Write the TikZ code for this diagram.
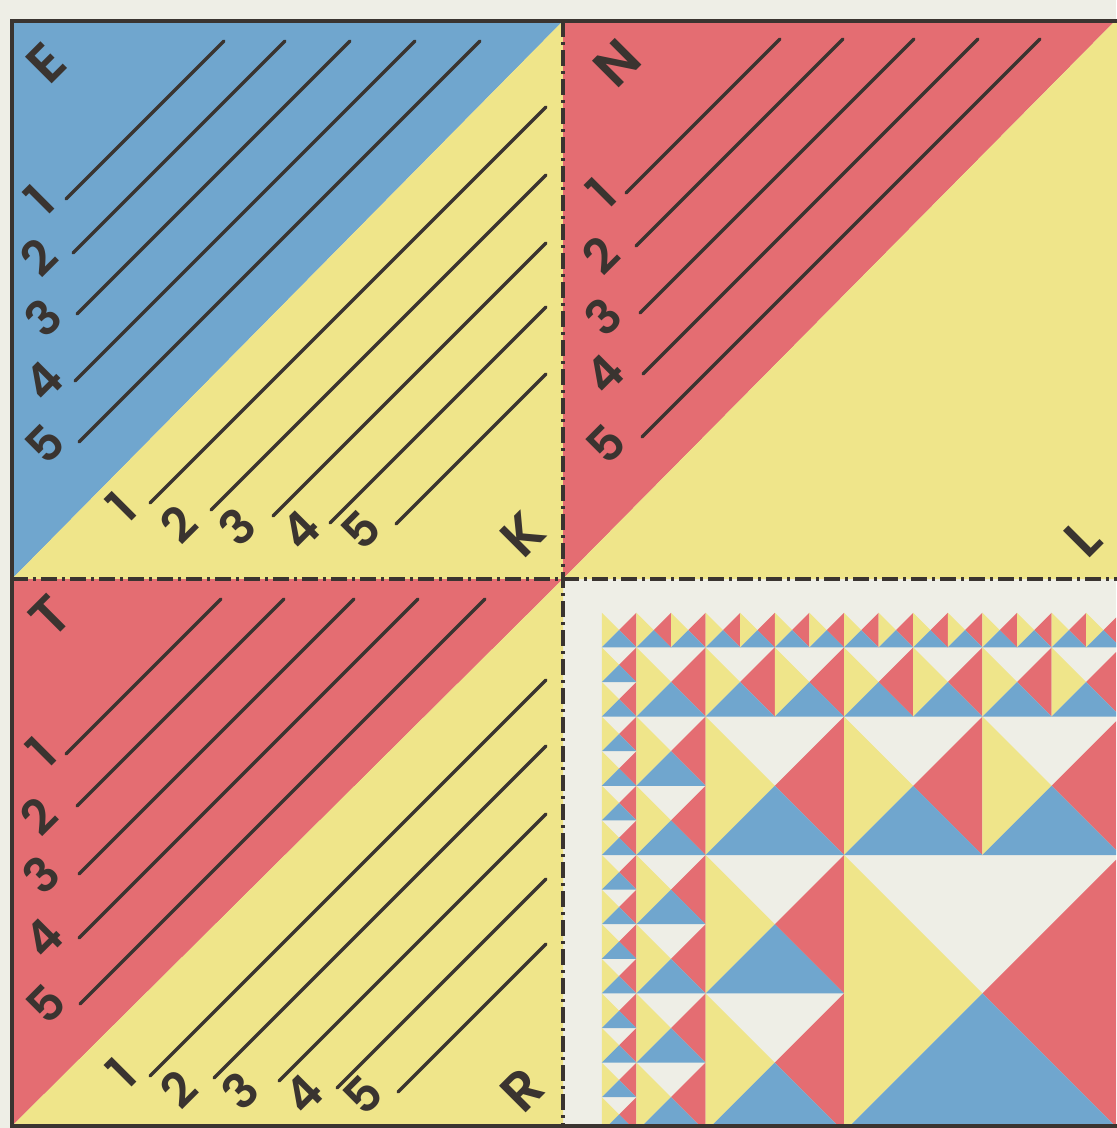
\documentclass[tikz,border=0pt]{standalone}
\usepackage{fontspec}
\newfontfamily\lblfont{Poppins SemiBold}
\usepackage{tikz}
\definecolor{cPaper}{HTML}{EEEEE6}
\definecolor{cInk}{HTML}{3A3430}
\definecolor{cBlue}{HTML}{70A6CE}
\definecolor{cRed}{HTML}{E46D72}
\definecolor{cYellow}{HTML}{EFE58A}
\tikzset{
  rule/.style={line width=1.7pt,color=cInk,line cap=round},
  digit/.style={font=\lblfont\fontsize{24}{24}\selectfont,text=cInk,rotate=45,inner sep=0pt},
  corner/.style={font=\lblfont\fontsize{27}{27}\selectfont,text=cInk,rotate=45,inner sep=0pt},
  fold/.style={line width=2.3pt,color=cInk,dash pattern=on 8pt off 2.5pt on 1.5pt off 2.5pt},
}
% one square of the mosaic: top-left corner x, y and side
\newcommand\tile[3]{%
  \fill[cYellow] (#1,#2) -- ++(0,#3) -- ++(#3/2,-#3/2) -- cycle;
  \fill[cRed] (#1+#3,#2) -- ++(0,#3) -- ++(-#3/2,-#3/2) -- cycle;
  \fill[cBlue] (#1,#2+#3) -- ++(#3,0) -- ++(-#3/2,-#3/2) -- cycle;
}
\def\Ox{601.8}\def\Oy{612.8}\def\U{34.6}

\begin{document}
\begin{tikzpicture}[x=0.5pt,y=-0.5pt]
  \useasboundingbox (0,0) rectangle (1116,1128);
  \fill[cPaper] (0,0) rectangle (1116,1128);

  % the four panels
  \fill[cBlue] (12,21) -- (563,21) -- (12,579) -- cycle;
  \fill[cYellow] (563,21) -- (563,579) -- (12,579) -- cycle;
  \fill[cRed] (563,21) -- (1115,21) -- (563,579) -- cycle;
  \fill[cYellow] (1115,21) -- (1119,21) -- (1119,579) -- (563,579) -- cycle;
  \fill[cRed] (12,579) -- (563,579) -- (12,1126) -- cycle;
  \fill[cYellow] (563,579) -- (563,1126) -- (12,1126) -- cycle;

  % mosaic, squares halving towards the top and the left
  \begin{scope}
    \clip (565,581) rectangle (1116,1125);
    \foreach \k in {0,...,3}{
      \foreach \m in {0,...,3}{
        \pgfmathtruncatemacro\lo{min(\k,\m)}
        \pgfmathsetmacro\side{2^\lo*\U}
        \pgfmathtruncatemacro\nx{2^(\k-\lo)}
        \pgfmathtruncatemacro\ny{2^(\m-\lo)}
        \foreach \a in {1,...,\nx}{
          \foreach \b in {1,...,\ny}{
            \pgfmathsetmacro\px{\Ox+(2^\k-1)*\U+(\a-1)*\side}
            \pgfmathsetmacro\py{\Oy+(2^\m-1)*\U+(\b-1)*\side}
            \tile{\px}{\py}{\side}
          }}
      }}
  \end{scope}

  % numbered rules, upper triangles
  \foreach \d/\sx/\sy/\lx/\ly in {1/66/199/39/200,2/73/253/39/257,3/77/314/43/318,4/75/381/43/381,5/79/442/45/444}{
    \pgfmathsetmacro\ex{\sx+\sy-41}
    \coordinate (eA\d) at (\sx,\sy); \coordinate (eB\d) at (\ex,41);
    \draw[rule] (eA\d) -- (eB\d);
    \node[digit] (eL\d) at (\lx,\ly) {\d};
  }
  \foreach \d/\sx/\sy/\lx/\ly in {1/626/193/601/193,2/636/246/601/255,3/640/313/603/317,4/643/374/604/374,5/642/437/606/444}{
    \pgfmathsetmacro\ex{\sx+\sy-39}
    \coordinate (nA\d) at (\sx,\sy); \coordinate (nB\d) at (\ex,39);
    \draw[rule] (nA\d) -- (nB\d);
    \node[digit] (nL\d) at (\lx,\ly) {\d};
  }
  \foreach \d/\sx/\sy/\lx/\ly in {1/66/754/41/752,2/77/806/39/816,3/79/874/41/875,4/79/938/43/938,5/80/1004/46/1004}{
    \pgfmathsetmacro\ex{\sx+\sy-599}
    \coordinate (tA\d) at (\sx,\sy); \coordinate (tB\d) at (\ex,599);
    \draw[rule] (tA\d) -- (tB\d);
    \node[digit] (tL\d) at (\lx,\ly) {\d};
  }

  % numbered rules, lower triangles
  \foreach \d/\sx/\sy/\lx/\ly in {1/150/503/121/507,2/211/510/179/524,3/273/516/237/527,4/330/523/300/530,5/396/524/361/530}{
    \pgfmathsetmacro\ey{\sx+\sy-546}
    \coordinate (kA\d) at (\sx,\sy); \coordinate (kB\d) at (546,\ey);
    \draw[rule] (kA\d) -- (kB\d);
    \node[digit] (kL\d) at (\lx,\ly) {\d};
  }
  \foreach \d/\sx/\sy/\lx/\ly in {1/150/1076/121/1073,2/214/1078/179/1089,3/279/1081/240/1091,4/337/1088/303/1094,5/398/1092/363/1095}{
    \pgfmathsetmacro\ey{\sx+\sy-546}
    \coordinate (rA\d) at (\sx,\sy); \coordinate (rB\d) at (546,\ey);
    \draw[rule] (rA\d) -- (rB\d);
    \node[digit] (rL\d) at (\lx,\ly) {\d};
  }

  % corner letters
  \node[corner] (cE) at (46,63) {E};
  \node[corner] (cN) at (617,63) {N};
  \node[corner] (cT) at (50,616) {T};
  \node[corner] (cK) at (523,535) {K};
  \node[corner] (cL) at (1083,538) {L};
  \node[corner] (cR) at (522,1090) {R};

  % fold lines and frame
  \draw[fold] (563,21) -- (563,1126);
  \draw[fold] (12,579) -- (1119,579);
  \draw[line width=2pt,cInk] (12,21) rectangle (1119,1126);
\end{tikzpicture}
\end{document}
